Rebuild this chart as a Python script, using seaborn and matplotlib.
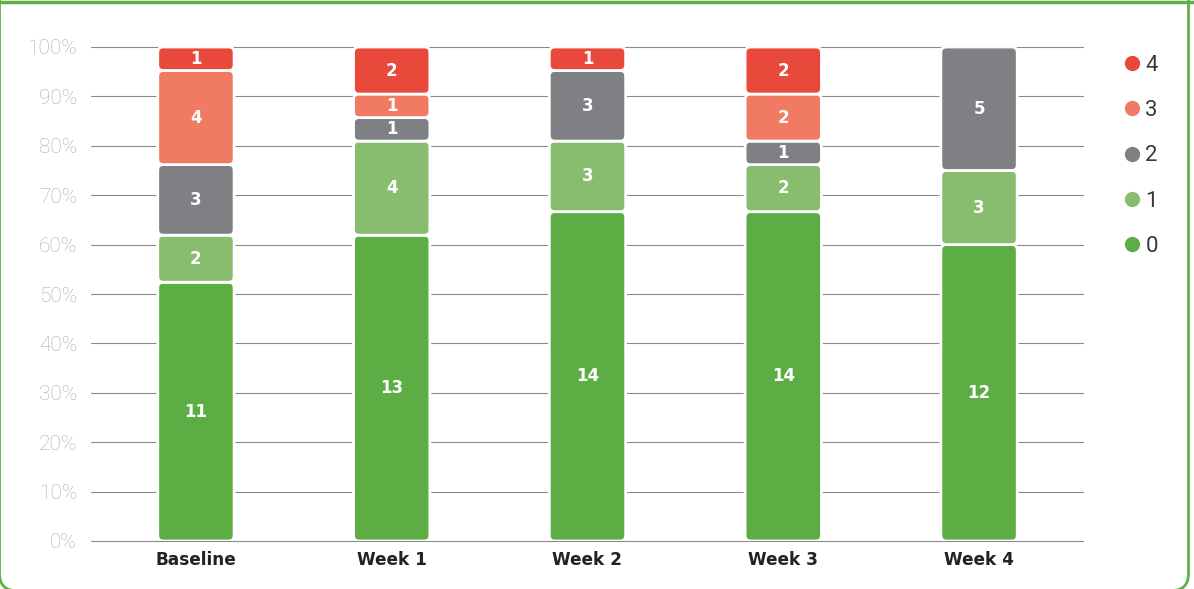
import numpy as np
import pandas as pd
import matplotlib
matplotlib.use("Agg")
import matplotlib.pyplot as plt
import seaborn as sns
from matplotlib.patches import FancyBboxPatch
from matplotlib.lines import Line2D

periods = ["Baseline", "Week 1", "Week 2", "Week 3", "Week 4"]
levels = ["0", "1", "2", "3", "4"]
count_0 = [11, 13, 14, 14, 12]
count_1 = [2, 4, 3, 2, 3]
count_2 = [3, 1, 3, 1, 5]
count_3 = [4, 1, 0, 2, 0]
count_4 = [1, 2, 1, 2, 0]
level_colors = ["#5DAD45", "#88BC6E", "#7F8084", "#F07A62", "#E9493B"]
ytick_vals = [0, 10, 20, 30, 40, 50, 60, 70, 80, 90, 100]
ytick_labels = [f"{v}%" for v in ytick_vals]

counts = np.array([count_0, count_1, count_2, count_3, count_4], dtype=float)
totals = counts.sum(axis=0)
pct = counts / totals * 100
cum = np.cumsum(pct, axis=0)

sns.set_theme(style="white")
plt.rcParams["font.family"] = ["DejaVu Sans"]

W, H = 1194, 589
fig = plt.figure(figsize=(W / 100, H / 100), dpi=100)
ax = fig.add_axes([91 / W, 1 - 541 / H, (1083 - 91) / W, (541 - 47) / H])

bar_w = 0.39
layers = {}
for li in range(len(levels) - 1, -1, -1):
    df = pd.DataFrame({"period": periods, "cum": cum[li]})
    n0 = len(ax.patches)
    sns.barplot(data=df, x="period", y="cum", color=level_colors[li],
                width=bar_w, errorbar=None, saturation=1, ax=ax, zorder=2)
    layers[li] = list(ax.patches[n0:])

xlim = (-0.536, 4.531)
ax.set_xlim(*xlim)
ax.set_ylim(0, 100)

ax_w_px = 1083 - 91
ax_h_px = 541 - 47
x_per_px = (xlim[1] - xlim[0]) / ax_w_px
y_per_px = 100 / ax_h_px
aspect = y_per_px / x_per_px
r = 5.5 * x_per_px

for li in range(len(levels)):
    for pi, p in enumerate(layers[li]):
        x0 = p.get_x()
        w = p.get_width()
        top = cum[li][pi]
        bot = cum[li - 1][pi] if li > 0 else 0.0
        p.remove()
        if counts[li][pi] <= 0:
            continue
        fb = FancyBboxPatch((x0, bot), w, top - bot,
                            boxstyle=f"round,pad=0,rounding_size={r}",
                            mutation_aspect=aspect,
                            facecolor=level_colors[li], edgecolor="white",
                            linewidth=2.0, zorder=3)
        ax.add_patch(fb)
        ax.text(x0 + w / 2, (bot + top) / 2, f"{int(counts[li][pi])}",
                ha="center", va="center", color="white",
                fontsize=12, fontweight="bold", zorder=4)

ax.set_yticks(ytick_vals)
ax.set_yticklabels(ytick_labels)
ax.set_xticks(range(len(periods)))
ax.set_xticklabels(periods)
ax.set_xlabel("")
ax.set_ylabel("")
for s in ax.spines.values():
    s.set_visible(False)
ax.grid(axis="y", color="#8a8a8a", linewidth=0.8, zorder=1)
ax.grid(axis="x", visible=False)
ax.set_axisbelow(True)
for gl in ax.get_ygridlines():
    gl.set_clip_on(False)
ax.tick_params(axis="y", length=0, pad=10, labelsize=15, labelcolor="#adadad")
for t in ax.get_yticklabels():
    t.set_fontfamily(["Roboto", "DejaVu Sans"])
    t.set_fontweight("light")
ax.tick_params(axis="x", length=0, pad=7, labelsize=12.2, labelcolor="#222222")
for t in ax.get_xticklabels():
    t.set_fontweight("bold")

# legend
handles = [Line2D([0], [0], marker="o", linestyle="", markersize=11,
                  markerfacecolor=level_colors[i], markeredgecolor="none")
           for i in range(len(levels) - 1, -1, -1)]
labels = [levels[i] for i in range(len(levels) - 1, -1, -1)]
leg = fig.legend(handles, labels, loc="upper left",
                 bbox_to_anchor=(1112 / W, 1 - 46 / H), frameon=False,
                 prop={"family": ["Roboto", "DejaVu Sans"], "size": 16, "weight": "normal"},
                 handletextpad=0.1, labelspacing=1.09,
                 handlelength=1.0, borderaxespad=0)
for t in leg.get_texts():
    t.set_color("#3a3a3a")

# green frame
border_color = "#62AE47"
frame = FancyBboxPatch((-0.5 / W, -1.6 / H), 1189 / W, 1.2,
                       boxstyle=f"round,pad=0,rounding_size={17 / W}",
                       mutation_aspect=W / H,
                       transform=fig.transFigure, facecolor="none",
                       edgecolor=border_color, linewidth=2.0, clip_on=False)
fig.patches.append(frame)
fig.add_artist(Line2D([0, 1], [1 - 1.5 / H, 1 - 1.5 / H], transform=fig.transFigure,
                      color=border_color, linewidth=2.5))

fig.savefig("out.png", dpi=100)
